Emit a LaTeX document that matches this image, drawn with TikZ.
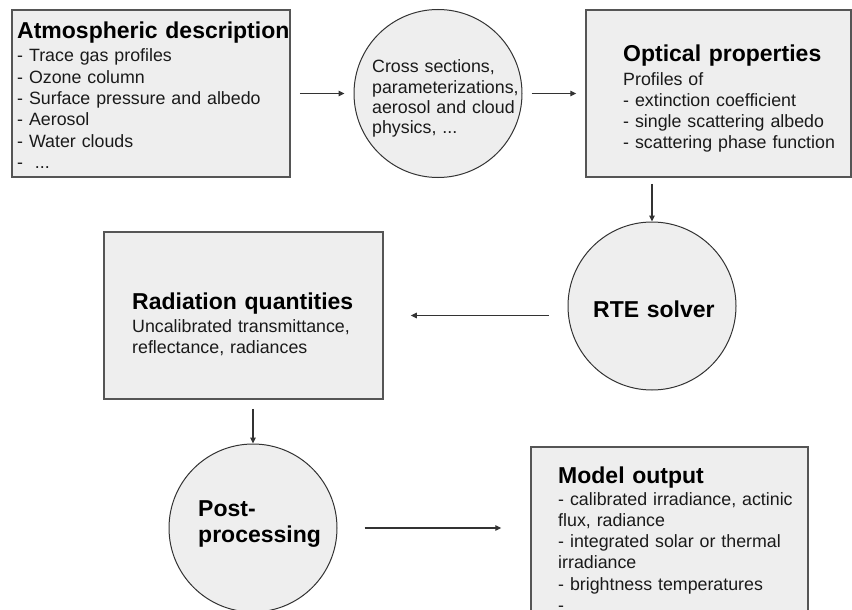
\documentclass[tikz,border=0pt]{standalone}
\usepackage{fontspec}
\setmainfont{Liberation Sans}
\usetikzlibrary{arrows.meta}
\definecolor{boxfill}{HTML}{EEEEEE}
\definecolor{boxline}{HTML}{555555}
\definecolor{circline}{HTML}{333333}
\definecolor{txt}{HTML}{1A1A1A}
\begin{document}
\begin{tikzpicture}[x=1pt,y=-1pt,
  box/.style={draw=boxline, fill=boxfill, line width=1.5pt, rectangle, inner sep=0pt},
  circ/.style={draw=circline, fill=boxfill, line width=1pt, circle, inner sep=0pt, minimum size=168pt},
  ttl/.style={anchor=base west, inner sep=0pt, text=black, font=\fontsize{23}{26.5}\selectfont\bfseries, text width=300pt, align=left},
  bod/.style={anchor=base west, inner sep=0pt, text=txt, font=\fontsize{17.8}{21.3}\selectfont, text width=300pt, align=left},
  arr/.style={draw=circline, line width=1.1pt, -{Triangle[length=6pt,width=5.5pt]}}]
\useasboundingbox (0,0) rectangle (852,610);
\fill[white] (0,0) rectangle (852,610);
% shapes
\node[box, minimum width=278pt, minimum height=167pt] (atm) at (151,93.5) {};
\node[circ] (cs) at (438,93.5) {};
\node[box, minimum width=265pt, minimum height=167pt] (opt) at (718.5,93.5) {};
\node[circ] (rte) at (652,306) {};
\node[box, minimum width=279pt, minimum height=167pt] (rad) at (243.5,315.5) {};
\node[circ] (post) at (253,528) {};
\node[box, minimum width=277pt, minimum height=167pt] (model) at (669.5,530.5) {};
% texts
\node[ttl] (atmT) at (17,39) {Atmospheric description};
\node[bod] (atmB) at (17,62) {- Trace gas profiles\\- Ozone column\\- Surface pressure and albedo\\- Aerosol\\- Water clouds\\-\ \ ...};
\node[bod, font=\fontsize{17.8}{20.3}\selectfont] (csT) at (372,73) {Cross sections,\\parameterizations,\\aerosol and cloud\\physics, ...};
\node[ttl] (optT) at (623,62) {Optical properties};
\node[bod] (optB) at (623,85) {Profiles of\\- extinction coefficient\\- single scattering albedo\\- scattering phase function};
\node[ttl] (rteT) at (593,317) {RTE solver};
\node[ttl] (radT) at (132,309) {Radiation quantities};
\node[bod] (radB) at (132,332) {Uncalibrated transmittance,\\reflectance, radiances};
\node[ttl] (postT) at (198,516) {Post-\\processing};
\node[ttl] (modelT) at (558,483) {Model output};
\node[bod] (modelB) at (558,505) {- calibrated irradiance, actinic\\flux, radiance\\- integrated solar or thermal\\irradiance\\- brightness temperatures\\-};
% connectors
\draw[arr, shorten <=9pt, shorten >=9pt] (atm.east) -- (cs.west);
\draw[arr, shorten <=9pt, shorten >=9pt] (cs.east) -- (opt.west);
\draw[arr, shorten <=6pt] (opt.south -| rte.north) -- (rte.north);
\draw[arr, shorten <=19pt, shorten >=27pt] (rte.west |- rad.east) -- (rad.east);
\draw[arr, shorten <=9pt] (rad.south -| post.north) -- (post.north);
\draw[arr, shorten <=27pt, shorten >=29pt] (post.east) -- (model.west |- post.east);
\end{tikzpicture}
\end{document}
